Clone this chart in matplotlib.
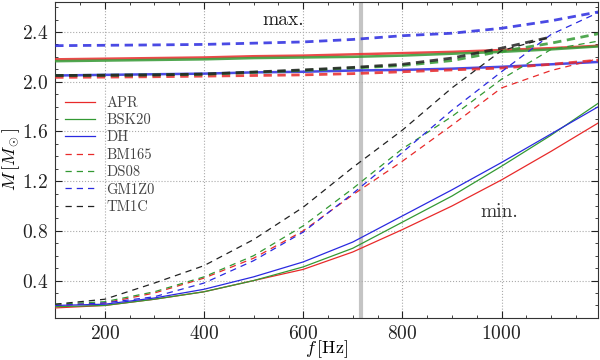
import numpy as np
import matplotlib
matplotlib.use('Agg')
import matplotlib.pyplot as plt
from matplotlib.ticker import MultipleLocator

plt.rcParams['font.family'] = 'serif'
plt.rcParams['font.serif'] = ['cmr10', 'DejaVu Serif']
plt.rcParams['mathtext.fontset'] = 'cm'
plt.rcParams['axes.formatter.use_mathtext'] = True

# frequencies [Hz]
freq = [100, 200, 300, 400, 500, 600, 700, 800, 900, 1000, 1100, 1200]
freq_tm1c = [100, 200, 300, 400, 500, 600, 700, 800, 900, 1000, 1100]

# maximum mass branches
apr_max = [2.18, 2.185, 2.19, 2.195, 2.205, 2.21, 2.22, 2.23, 2.24, 2.255, 2.27, 2.29]
bsk20_max = [2.165, 2.17, 2.175, 2.18, 2.19, 2.195, 2.20, 2.21, 2.225, 2.24, 2.26, 2.285]
dh_max = [2.05, 2.055, 2.06, 2.065, 2.075, 2.08, 2.09, 2.095, 2.105, 2.12, 2.14, 2.16]
bm165_max = [2.035, 2.037, 2.04, 2.045, 2.05, 2.055, 2.065, 2.08, 2.095, 2.11, 2.14, 2.175]
ds08_max = [2.05, 2.052, 2.055, 2.06, 2.075, 2.09, 2.11, 2.13, 2.17, 2.245, 2.31, 2.39]
gm1z0_max = [2.29, 2.293, 2.296, 2.30, 2.31, 2.32, 2.34, 2.37, 2.39, 2.43, 2.49, 2.565]
tm1c_max = [2.05, 2.052, 2.055, 2.062, 2.078, 2.095, 2.115, 2.14, 2.19, 2.27, 2.36]

# minimum mass branches
apr_min = [0.18, 0.20, 0.25, 0.31, 0.40, 0.49, 0.63, 0.81, 1.00, 1.21, 1.44, 1.68]
bsk20_min = [0.19, 0.20, 0.25, 0.31, 0.40, 0.51, 0.66, 0.87, 1.08, 1.32, 1.57, 1.84]
dh_min = [0.20, 0.21, 0.26, 0.33, 0.43, 0.55, 0.71, 0.92, 1.13, 1.35, 1.58, 1.81]
bm165_min = [0.20, 0.22, 0.30, 0.42, 0.58, 0.80, 1.09, 1.36, 1.65, 1.95, 2.09, 2.19]
ds08_min = [0.21, 0.23, 0.31, 0.43, 0.60, 0.84, 1.14, 1.46, 1.72, 2.02, 2.26, 2.33]
gm1z0_min = [0.20, 0.22, 0.27, 0.38, 0.56, 0.79, 1.10, 1.43, 1.77, 2.08, 2.38, 2.565]
tm1c_min = [0.21, 0.25, 0.38, 0.52, 0.73, 0.99, 1.31, 1.61, 1.95, 2.25, 2.36]

f_pulsar = 716

red = '#e82a2a'
green = '#339933'
blue = '#2a2ae0'
black = '#222222'

fig = plt.figure(figsize=(6, 3.6), dpi=100)
ax = fig.add_axes([0.092, 0.117, 0.905, 0.877])

ax.axvline(f_pulsar, color='#c4c4c4', lw=3.0, zorder=1)

solid = [('APR', red, apr_max, apr_min),
         ('BSK20', green, bsk20_max, bsk20_min),
         ('DH', blue, dh_max, dh_min)]
dashed = [('BM165', red, freq, bm165_max, bm165_min),
          ('DS08', green, freq, ds08_max, ds08_min),
          ('GM1Z0', blue, freq, gm1z0_max, gm1z0_min),
          ('TM1C', black, freq_tm1c, tm1c_max, tm1c_min)]

for name, c, ymax, ymin in solid:
    ax.plot(freq, ymax, '-', color=c, lw=1.8, alpha=0.85, zorder=3)
    ax.plot(freq, ymin, '-', color=c, lw=0.9, zorder=3, label=name)

for name, c, f, ymax, ymin in dashed:
    ax.plot(f, ymax, '--', color=c, lw=2.0, alpha=0.85, dashes=(3, 2), zorder=3)
    ax.plot(f, ymin, '--', color=c, lw=0.9, dashes=(5, 4), zorder=3, label=name)

ax.set_xlim(100, 1195)
ax.set_ylim(0.1, 2.64)
ax.xaxis.set_major_locator(MultipleLocator(200))
ax.xaxis.set_minor_locator(MultipleLocator(50))
ax.yaxis.set_major_locator(MultipleLocator(0.4))
ax.yaxis.set_minor_locator(MultipleLocator(0.1))
ax.tick_params(which='both', direction='in', top=True, right=True, labelsize=14, colors='#222222')
ax.tick_params(which='major', length=5, pad=5)
ax.tick_params(which='minor', length=2.5)
ax.grid(True, which='major', ls=':', color='#aaaaaa', lw=0.8)
for s in ax.spines.values():
    s.set_color('#333333')

ax.set_xlabel(r'$f\,[\mathrm{Hz}]$', fontsize=13, labelpad=-3)
ax.set_ylabel(r'$M\,[M_\odot]$', fontsize=13, labelpad=0)

ax.text(560, 2.50, 'max.', fontsize=14, ha='center', va='center', color='#222222')
ax.text(996, 0.95, 'min.', fontsize=14, ha='center', va='center', color='#333333')

leg = ax.legend(loc='upper left', bbox_to_anchor=(0.0, 0.735), frameon=False, fontsize=10.5,
                handlelength=2.0, labelspacing=0.25, borderaxespad=0.3)
for t in leg.get_texts():
    t.set_color('#444444')

fig.savefig('out.png', dpi=100)
